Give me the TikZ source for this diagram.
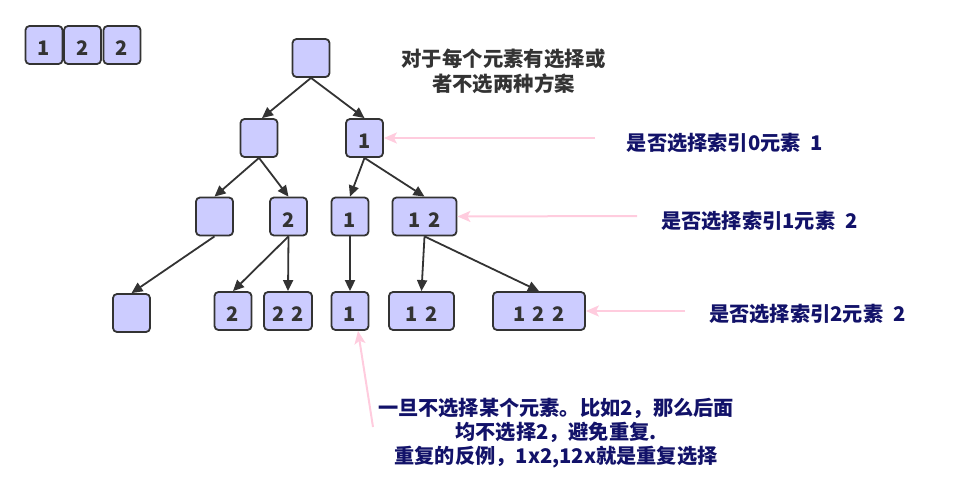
\documentclass[tikz,border=0pt]{standalone}
\usepackage{fontspec}
\setmainfont{Noto Sans CJK SC}
\usetikzlibrary{arrows.meta,calc}
\definecolor{boxfill}{HTML}{CCCCFF}
\definecolor{boxline}{HTML}{333333}
\definecolor{txtgray}{HTML}{333333}
\definecolor{navy}{RGB}{18,18,105}
\definecolor{pinkline}{RGB}{255,204,222}
\newcommand{\dg}{\hspace{0.38em}}
\tikzset{
  cell/.style={draw=boxline, fill=boxfill, rounded corners=4pt, line width=1.8pt,
    minimum width=37pt, minimum height=38pt, inner sep=0pt,
    font=\bfseries\fontsize{20}{22}\selectfont, text=txtgray,
    text height=21pt, text depth=0pt},
  edge/.style={draw=boxline, line width=1.8pt, -{Triangle[length=11pt,width=10pt]}},
  pinkarrow/.style={draw=pinkline, line width=2pt, -{Stealth[length=13pt,width=11pt,inset=3pt]}},
  navytext/.style={font=\bfseries\fontsize{20.2}{24}\selectfont, text=navy, align=center, inner sep=0pt},
  graytext/.style={font=\bfseries\fontsize{20.4}{24.5}\selectfont, text=txtgray, align=center, inner sep=0pt}
}
\begin{document}
\begin{tikzpicture}[x=1pt,y=-1pt]
\useasboundingbox (0,0) rectangle (954,495);
% array
\node[cell] (arr1) at (44,45) {1};
\node[cell] (arr2) at (82.5,45) {2};
\node[cell] (arr3) at (122,45) {2};
% tree
\node[cell] (root) at (311,58) {};
\node[cell] (a) at (259,138) {};
\node[cell] (b) at (364.5,138) {1};
\node[cell] (c) at (214.5,216.5) {};
\node[cell] (d) at (288.5,216.5) {2};
\node[cell] (e) at (350,216.5) {1};
\node[cell, minimum width=64pt] (f) at (424.5,216.5) {1\dg 2};
\node[cell] (g) at (131.5,313) {};
\node[cell] (h) at (233,311) {2};
\node[cell, minimum width=48pt] (i) at (288,311) {2\dg 2};
\node[cell] (j) at (350,311) {1};
\node[cell, minimum width=65pt] (k) at (421.5,311) {1\dg 2};
\node[cell, minimum width=92pt] (l) at (539,311) {1\dg 2\dg 2};
% edges
\draw[edge] (root.south) -- ($(a.north)+(3,0)$);
\draw[edge] (root.south) -- (b.north);
\draw[edge] (a.south) -- (c.north);
\draw[edge] (a.south) -- (d.north);
\draw[edge] (b.south) -- (e.north);
\draw[edge] (b.south) -- (f.north);
\draw[edge] (c.south) -- (g.north);
\draw[edge] (d.south) -- (h.north);
\draw[edge] (d.south) -- (i.north);
\draw[edge] (e.south) -- (j.north);
\draw[edge] (f.south) -- (k.north);
\draw[edge] (f.south) -- (l.north);
% pink arrows
\coordinate (p0) at (595,138);
\coordinate (p1) at (637,216);
\coordinate (p2) at (685,311);
\coordinate (p3) at (373,427);
\draw[pinkarrow] (p0) -- (b.east);
\draw[pinkarrow] (p1) -- (f.east);
\draw[pinkarrow] (p2) -- (l.east);
\draw[pinkarrow] (p3) -- ($(j.south)+(8,0)$);
% texts
\node[graytext] (top) at (503.5,71.5) {对于每个元素有选择或\\者不选两种方案};
\node[navytext] (t0) at (725,143) {是否选择索引0元素\hspace{0.5em}1};
\node[navytext] (t1) at (759.5,221) {是否选择索引1元素\hspace{0.5em}2};
\node[navytext] (t2) at (807.5,314) {是否选择索引2元素\hspace{0.5em}2};
\node[navytext] (bot) at (556,433.5) {一旦不选择某个元素。比如2，那么后面\\均不选择2，避免重复.\\重复的反例，1x2,12x就是重复选择};
\end{tikzpicture}
\end{document}
